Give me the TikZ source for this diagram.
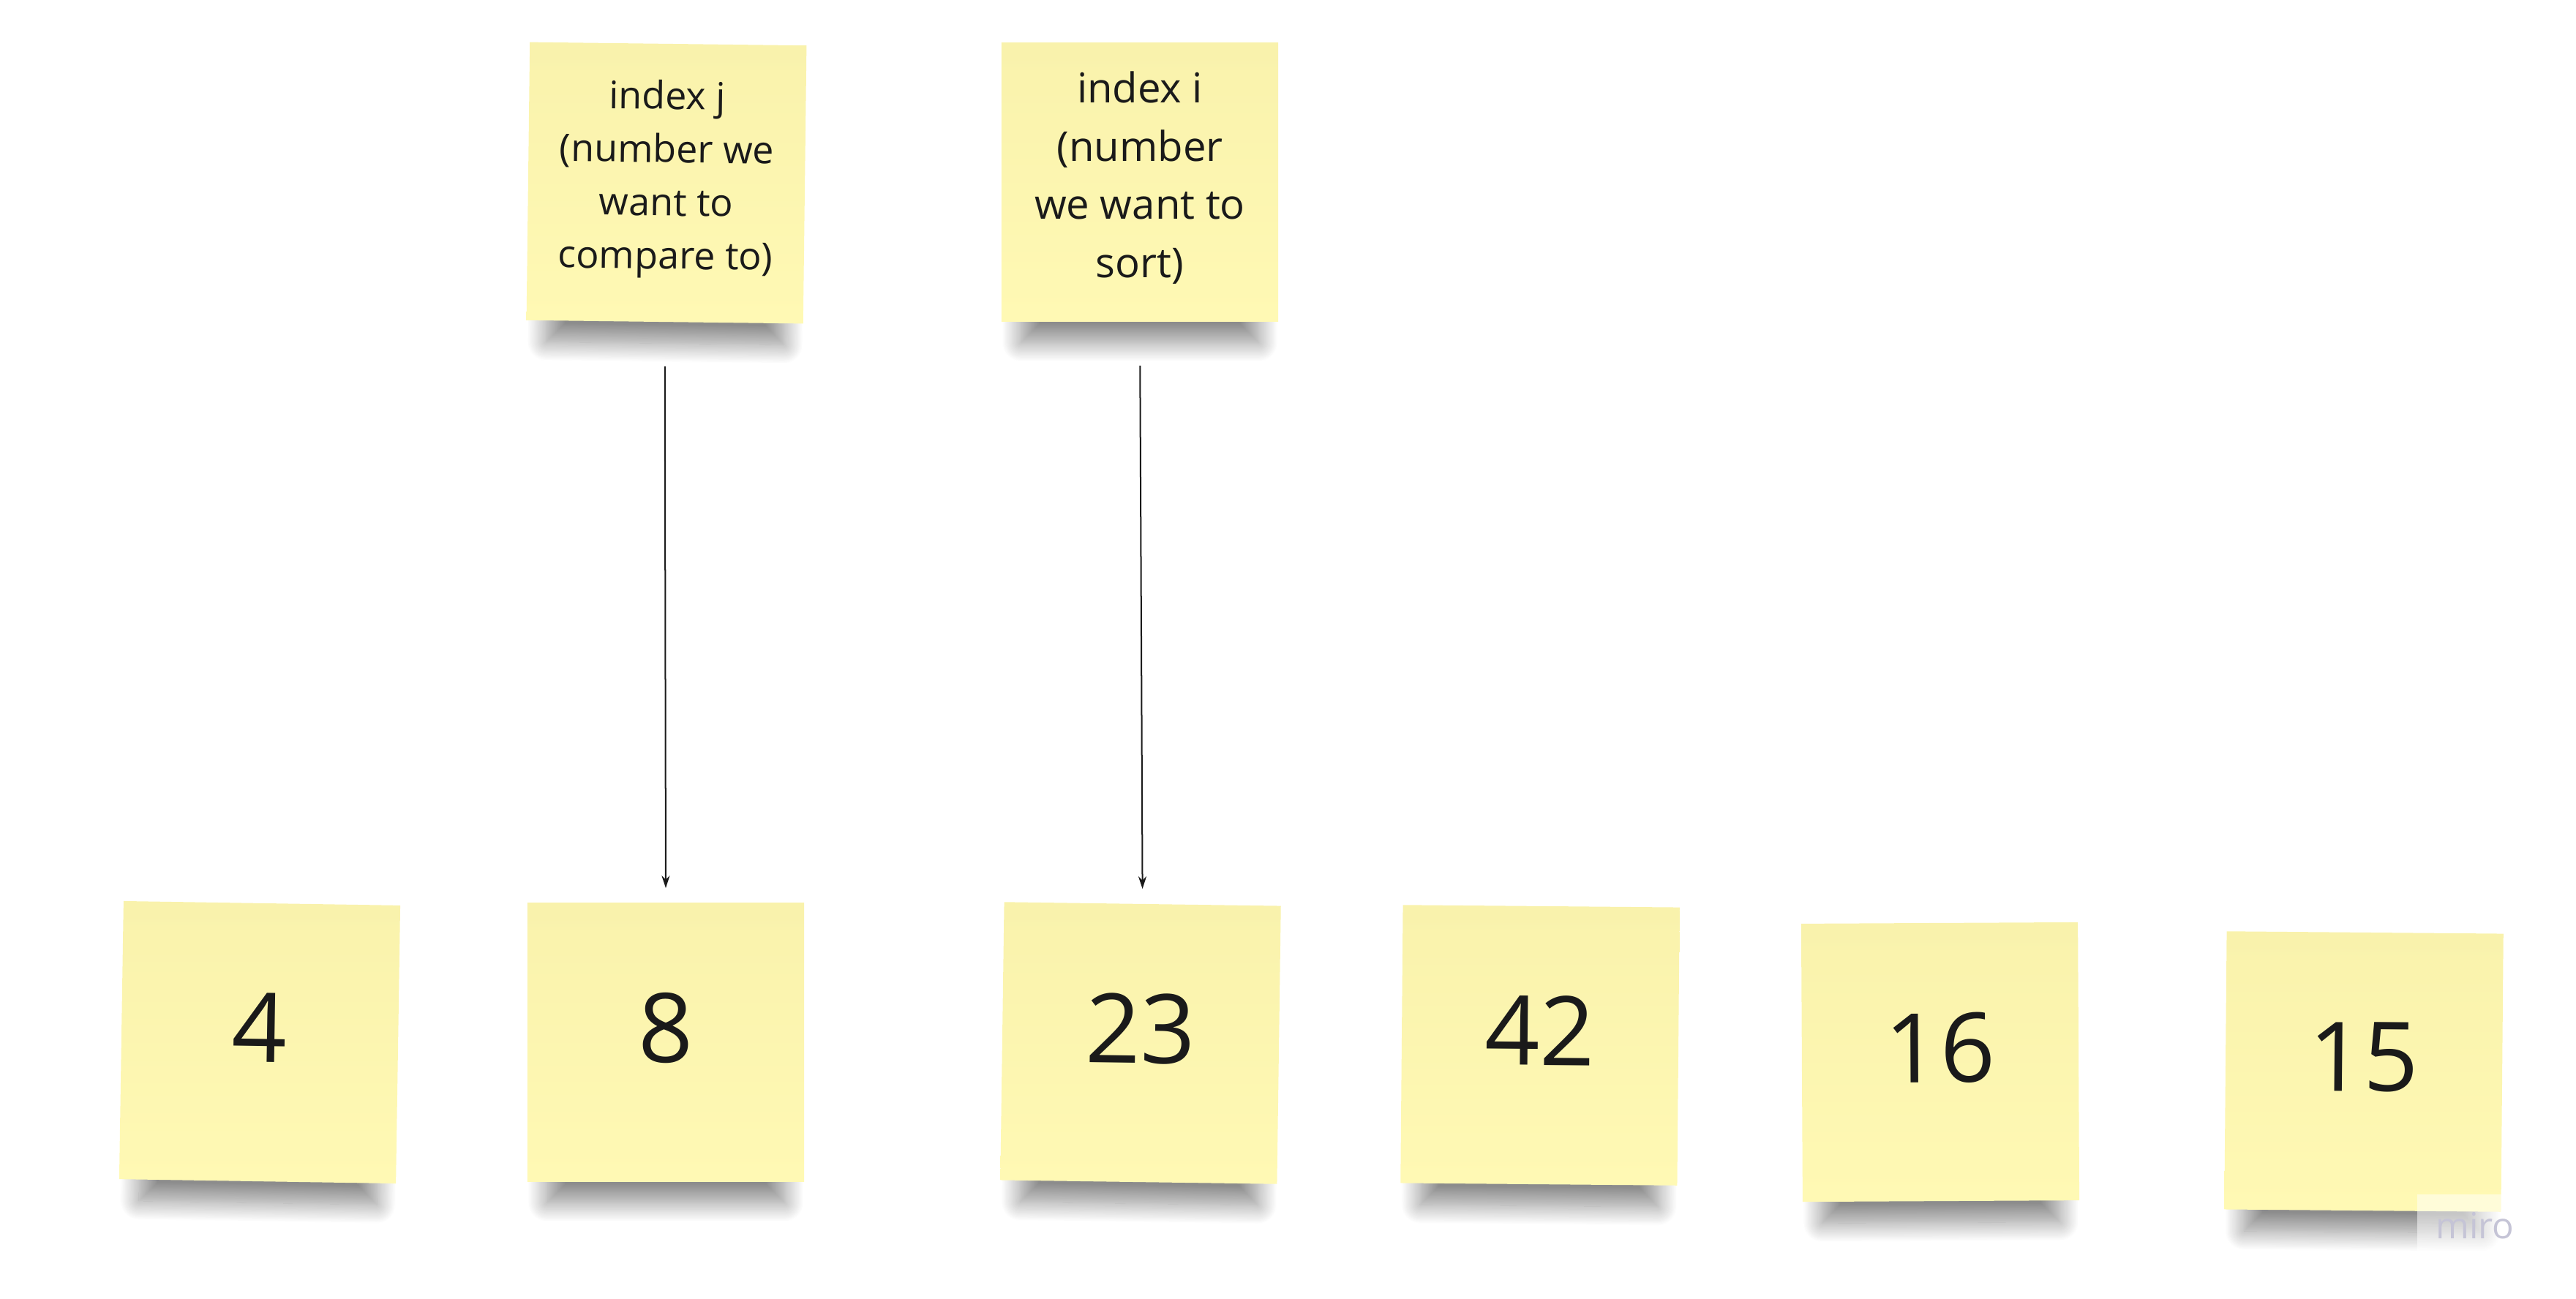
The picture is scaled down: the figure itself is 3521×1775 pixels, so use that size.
\documentclass[tikz,border=0pt]{standalone}
\usepackage{fontspec}
\setmainfont{Open Sans}
\usetikzlibrary{arrows.meta,shadows.blur}
\definecolor{stickyyellow}{RGB}{255, 249, 180}
\definecolor{stickytop}{RGB}{249, 242, 172}
\definecolor{inkblack}{RGB}{26, 26, 26}
\definecolor{mirogrey}{RGB}{197, 196, 214}
\tikzstyle{sticky} = [
  rectangle,
  minimum width=3.78cm,
  minimum height=3.8cm,
  inner sep=0pt,
  top color=stickytop,
  middle color=stickyyellow,
  bottom color=stickyyellow,
  text=inkblack,
  blur shadow={
    shadow xshift=0cm,
    shadow yshift=-0.65cm,
    shadow scale=0.86,
    shadow blur radius=0.3cm,
    shadow blur steps=24,
    shadow opacity=45,
  },
]
\tikzstyle{valuenote} = [
  sticky,
  font=\fontsize{37.4}{44}\selectfont,
  text depth=0.4cm,
]
\tikzstyle{indexnote} = [
  sticky,
  font=\fontsize{14.8}{20.7}\selectfont,
]
\tikzstyle{pointer} = [
  -{Stealth[length=0.17cm, width=0.11cm]},
  line width=0.02cm,
  draw=inkblack,
  shorten <=0.6cm,
  shorten >=0.2cm,
]

\begin{document}
\begin{tikzpicture}[x=0.01cm, y=-0.01cm]
            \useasboundingbox (0,0) rectangle (3521,1775);

            % Array
            \node[valuenote, rotate=-0.9] (n4) at (355,1425) {4};
            \node[valuenote] (n8) at (910,1425) {8};
            \node[valuenote, rotate=-0.8] (n23) at (1559,1426) {23};
            \node[valuenote, rotate=-0.5] (n42) at (2105,1429) {42};
            \node[valuenote, rotate=0.3] (n16) at (2652,1452) {16};
            \node[valuenote, rotate=-0.5] (n15) at (3231,1465) {15};

            % Indices
            \node[indexnote, rotate=-0.7] (j) at (911,250)
              {\begin{tabular}{@{}c@{}}index j\\(number we\\want to\\compare to)\\[0.12cm]\end{tabular}};
            \node[indexnote, font=\fontsize{16}{22.6}\selectfont] (i) at (1558,249)
              {\begin{tabular}{@{}c@{}}index i\\(number\\we want to\\sort)\\[0.1cm]\end{tabular}};

            % Pointers
            \draw[pointer] (j.south) -- (n8.north);
            \draw[pointer] (i.south) -- (n23.north);

            % Watermark
            \node[font=\fontsize{14}{14}\selectfont, text=mirogrey, fill=white,
                  fill opacity=0.5, text opacity=1, inner sep=0.25cm] (miro) at (3383,1676) {miro};
          \end{tikzpicture}
\end{document}
